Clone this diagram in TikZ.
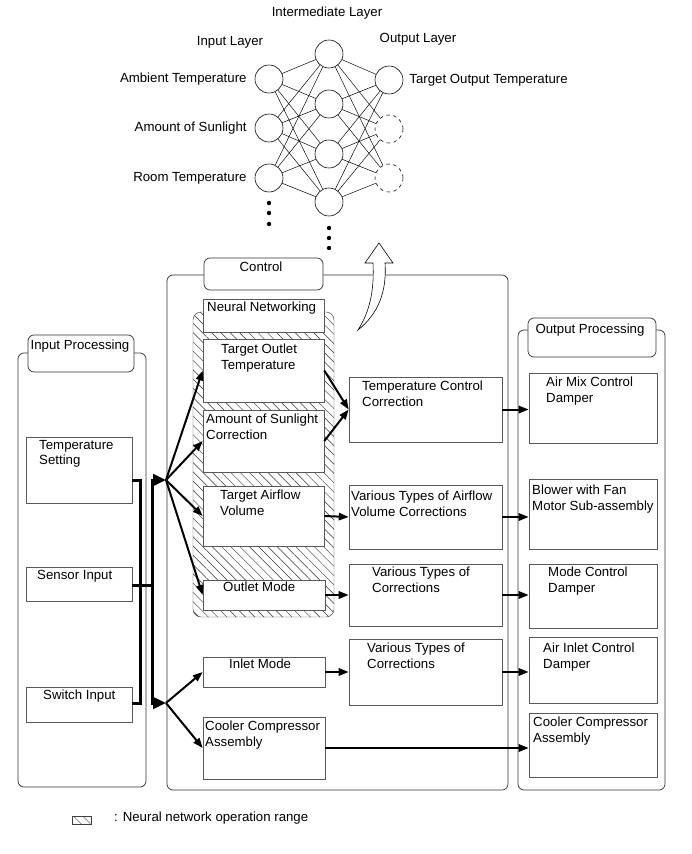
\documentclass[tikz,border=0pt]{standalone}
\usepackage{fontspec}
\setmainfont{Liberation Sans}
\usetikzlibrary{arrows.meta}
\usetikzlibrary{fit}
\usetikzlibrary{patterns.meta}

\newcommand{\dfont}{\fontsize{11.3}{13}\selectfont}

\begin{document}
\begin{tikzpicture}[x=0.3mm, y=-0.3mm, font=\dfont,
  neuron/.style={circle, draw, minimum size=8.4mm, inner sep=0pt, line width=0.5pt},
  blk/.style={draw=black!65, fill=white, inner sep=0pt, line width=0.5pt},
  grp/.style={draw=black!80, fill=white, rounded corners=1.8mm, inner sep=0pt, line width=0.6pt},
  txt/.style={anchor=north west, inner sep=0pt, align=left},
  arr/.style={line width=0.6mm, -{Triangle[length=3mm, width=2.2mm]}},
  bus/.style={line width=0.9mm},
  hatch/.style={pattern={Lines[angle=-45, distance=5.6pt, line width=0.4pt]}, pattern color=black!80}]
        \useasboundingbox (0,0) rectangle (691,854);

        % Neural network at the top
        \node (hidT) at (327,13) {Intermediate Layer};
        \node (inT) at (230,42) {Input Layer};
        \node (outT) at (418,39) {Output Layer};

        \node[neuron, label={[label distance=1.2mm]left:Ambient Temperature}] (in1) at (269,79) {};
        \node[neuron, label={[label distance=1.2mm]left:Amount of Sunlight}] (in2) at (269,128) {};
        \node[neuron, label={[label distance=1.2mm]left:Room Temperature}] (in3) at (269,178) {};

        \node[neuron] (h1) at (329,54) {};
        \node[neuron] (h2) at (329,104) {};
        \node[neuron] (h3) at (329,154) {};
        \node[neuron] (h4) at (329,202) {};

        \node[neuron, label={[label distance=0.6mm]right:Target Output Temperature}] (out1) at (389,80) {};
        \node[neuron, dashed] (out2) at (389,129) {};
        \node[neuron, dashed] (out3) at (389,178) {};

        % Connect every layer to the next one
        \foreach \i in {1,2,3}
        {
          \foreach \j in {1,...,4}
            \draw (in\i) -- (h\j);
        }
        \foreach \j in {1,...,4}
        {
          \foreach \k in {1,2,3}
            \draw (h\j) -- (out\k);
        }

        \foreach \y in {203,213,224}
          \fill (269,\y) circle (0.65mm);
        \foreach \y in {228,238,248}
          \fill (329,\y) circle (0.65mm);

        % Group frames and their tabs
        \node[grp, fit={(18,353) (146,787)}] (inproc) {};
        \node[grp, fit={(28,335) (134,372)}] (inprocTab) {};
        \node[anchor=north, inner sep=0pt] (inprocT) at (80,340) {Input Processing};

        \node[grp, fit={(167,275) (508,790)}] (ctrl) {};
        \node[grp, fit={(204,258) (323,290)}] (ctrlTab) {};
        \node[anchor=north, inner sep=0pt] (ctrlT) at (261,262) {Control};

        \node[grp, fit={(518,330) (665,790)}] (outproc) {};
        \node[grp, fit={(528,318) (656,357)}] (outprocTab) {};
        \node[anchor=north, inner sep=0pt] (outprocT) at (590,324) {Output Processing};

        % Neural network operation range
        \node[hatch, draw=black!75, rounded corners=2.4mm, inner sep=0pt, fit={(193,312) (334,617)}] (nnrange) {};

        % Input blocks
        \node[blk, fit={(26,437) (132,503)}] (ts) {};
        \node[txt] (tsT) at (39,440) {Temperature\\Setting};
        \node[blk, fit={(26,567) (132,601)}] (si) {};
        \node[txt] (siT) at (37,570) {Sensor Input};
        \node[blk, fit={(26,687) (132,722)}] (sw) {};
        \node[txt] (swT) at (43,690) {Switch Input};

        % Control blocks
        \node[blk, fit={(203,299) (324,332)}] (nn) {};
        \node[txt] (nnT) at (207,302) {Neural Networking};
        \node[blk, fit={(203,339) (324,402)}] (tot) {};
        \node[txt] (totT) at (221,344) {Target Outlet\\Temperature};
        \node[blk, fit={(203,410) (324,472)}] (sun) {};
        \node[txt] (sunT) at (206,414) {Amount of Sunlight\\Correction};
        \node[blk, fit={(203,486) (324,546)}] (tav) {};
        \node[txt] (tavT) at (220,490) {Target Airflow\\Volume};
        \node[blk, fit={(203,580) (325,610)}] (om) {};
        \node[txt] (omT) at (223,582) {Outlet Mode};
        \node[blk, fit={(203,657) (325,687)}] (im) {};
        \node[txt] (imT) at (229,659) {Inlet Mode};
        \node[blk, fit={(203,717) (325,779)}] (ccc) {};
        \node[txt] (cccT) at (205,721) {Cooler Compressor\\Assembly};

        \node[blk, fit={(349,377) (502,442)}] (tcc) {};
        \node[txt] (tccT) at (362,381) {Temperature Control\\Correction};
        \node[blk, fit={(349,485) (502,549)}] (avc) {};
        \node[txt] (avcT) at (351,491) {Various Types of Airflow\\Volume Corrections};
        \node[blk, fit={(349,564) (502,626)}] (vc1) {};
        \node[txt] (vc1T) at (372,567) {Various Types of\\Corrections};
        \node[blk, fit={(349,639) (502,705)}] (vc2) {};
        \node[txt] (vc2T) at (367,643) {Various Types of\\Corrections};

        % Output blocks
        \node[blk, fit={(529,373) (657,443)}] (amx) {};
        \node[txt] (amxT) at (546,377) {Air Mix Control\\Damper};
        \node[blk, fit={(529,479) (657,549)}] (blw) {};
        \node[txt] (blwT) at (532,485) {Blower with Fan\\Motor Sub-assembly};
        \node[blk, fit={(529,564) (657,628)}] (mcd) {};
        \node[txt] (mcdT) at (548,567) {Mode Control\\Damper};
        \node[blk, fit={(529,637) (657,703)}] (aic) {};
        \node[txt] (aicT) at (543,643) {Air Inlet Control\\Damper};
        \node[blk, fit={(529,713) (657,777)}] (cco) {};
        \node[txt] (ccoT) at (533,717) {Cooler Compressor\\Assembly};

        % Input bus
        \coordinate (b1) at (140,480);
        \coordinate (b2) at (140,703);
        \coordinate (b3) at (152,585);
        \coordinate (j1) at (166,480);
        \coordinate (j2) at (166,703);
        \draw[bus] (ts.east |- b1) -- (b1) -- (b2) -- (sw.east |- b2);
        \draw[bus] (si.east |- b3) -- (b3);
        \draw[bus, -{Triangle[length=3.9mm, width=3.5mm]}] (b3) |- (j1);
        \draw[bus, -{Triangle[length=3.9mm, width=3.5mm]}] (b3) |- (j2);

        \foreach \b in {tot,sun,tav,om}
          \draw[arr] (j1) -- (\b.west);
        \foreach \b in {im,ccc}
          \draw[arr] (j2) -- (\b.west);

        \draw[arr] (tot.east) -- (tcc.west);
        \draw[arr] (sun.east) -- (tcc.west);
        \draw[arr] (tav.east) -- (avc.west);
        \draw[arr] (om.east) -- (vc1.west);
        \draw[arr] (im.east) -- (vc2.west);
        \draw[arr] (ccc.east) -- (ccc.east -| cco.west);

        \draw[arr] (tcc.east) -- (tcc.east -| amx.west);
        \draw[arr] (avc.east) -- (avc.east -| blw.west);
        \draw[arr] (vc1.east) -- (vc1.east -| mcd.west);
        \draw[arr] (vc2.east) -- (vc2.east -| aic.west);

        % Hollow arrow up to the network
        \draw[fill=white, line width=0.5pt] (358,330) .. controls (372,308) and (374,285) .. (373,263) -- (365,263) -- (379,243) -- (393,263) -- (385,263) .. controls (387,292) and (378,314) .. cycle;

        % Legend
        \node[hatch, draw=black!75, inner sep=0pt, fit={(72,816) (91,824)}] (lgd) {};
        \node[anchor=west, inner sep=0pt] (lgdT) at (114,818) {: Neural network operation range};
      \end{tikzpicture}
\end{document}
